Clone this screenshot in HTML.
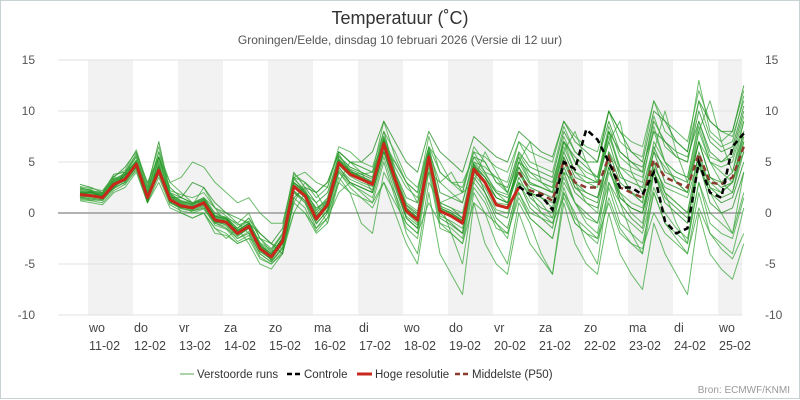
<!DOCTYPE html>
<html><head><meta charset="utf-8"><style>
body{margin:0;background:#fff}
svg{display:block;font-family:"Liberation Sans",sans-serif}
</style></head><body>
<svg id="chart" width="800" height="400" viewBox="0 0 800 400">
<rect x="0.5" y="0.5" width="799" height="398" fill="#fff" stroke="#c8d2d4"/>
<text x="400" y="24" text-anchor="middle" font-size="18" fill="#333">Temperatuur (˚C)</text>
<text x="400" y="44" text-anchor="middle" font-size="12" fill="#555">Groningen/Eelde, dinsdag 10 februari 2026 (Versie di 12 uur)</text>
<g id="bands"></g><g id="grid"></g><g id="members"></g><g id="mainlines"></g><g id="axes"></g>
<g font-size="11.5" fill="#333">
<g><line x1="180" y1="374" x2="194" y2="374" stroke="#a8d4a8" stroke-width="2"/><text x="197" y="378">Verstoorde runs</text></g>
<g><line x1="287" y1="374" x2="301" y2="374" stroke="#000" stroke-width="2.5" stroke-dasharray="5,3"/><text x="304" y="378">Controle</text></g>
<g><line x1="357" y1="374" x2="372" y2="374" stroke="#c8281c" stroke-width="3"/><text x="375" y="378">Hoge resolutie</text></g>
<g><line x1="455" y1="374" x2="469" y2="374" stroke="#8b3a2e" stroke-width="2.5" stroke-dasharray="5,3"/><text x="472" y="378">Middelste (P50)</text></g>
</g>
<text x="790" y="393" text-anchor="end" font-size="10" fill="#999">Bron: ECMWF/KNMI</text>
</svg>
<script>
const yTicks=[-10,-5,0,5,10,15];
const dayNames=["wo","do","vr","za","zo","ma","di","wo","do","vr","za","zo","ma","di","wo"];
const dayDates=["11-02","12-02","13-02","14-02","15-02","16-02","17-02","18-02","19-02","20-02","21-02","22-02","23-02","24-02","25-02"];
const hires=[1.8,1.7,1.5,2.8,3.3,4.8,1.5,4.2,1.3,0.7,0.5,1.0,-0.7,-0.9,-2,-1.3,-3.5,-4.3,-2.8,2.6,1.7,-0.6,0.8,4.9,3.8,3.3,2.8,6.8,3.3,0.2,-0.7,5.5,0.2,-0.3,-1,4.3,3,0.8,0.5,2.5];
const control=[2.6,1.8,1.7,0.3,5.0,4.3,8.2,7.2,5.0,2.5,2.5,1.8,4.0,-0.8,-2.0,-1.5,5.0,2.0,1.5,6.5,7.8];
const p50=[4.0,2.2,1.9,1.2,5.2,3.0,2.5,2.5,5.5,2.5,2.0,1.5,5.2,3.5,3.0,2.5,5.8,3.0,2.8,3.5,6.5];
const members=[
[2.5,2.2,2,3.5,4.5,6,2.5,7,2,1.5,1,1.5,0,-0.5,-1.5,-0.5,-2,-3,-1.5,4,2.5,1,2,5.5,4.5,4,3.5,8,4,1.5,1,6.5,2,1.5,1,5.5,5,3,2.5,6,4.5,4,3.5,8,6,5,5,9,6,5,4.5,8,7,6,5.5,9,6,5,6,10],
[1.2,1,0.8,2,2.5,4,1,3,0.5,0,-0.5,0,-1.5,-2,-3,-2.5,-4.5,-5,-4,1,0,-2,-1,3.5,2,1.5,1,5,1.5,-1.5,-2.5,4,-1.5,-2,-3,2.5,1,-1.5,-2,1.5,-0.5,-1.5,-2.5,2,-1,-2,-3,1.5,-1.5,-3,-4,2,-1,-2.5,-4,2,-2,-3,-4,0.5],
[2,1.8,1.7,3.3,3.8,5.5,2,5,1.8,1.2,0.8,2.5,0.5,-0.3,-1.2,-0.8,-3,-3.8,-2,3,2.2,0.3,1.5,5.8,4,3.8,4,7.5,4.5,2.5,1.5,6,3,2,1,5,4.5,3.5,2,5.5,3,2.5,2,7,5,3.5,3,8,4,2,1,6,4.5,3,2,7,5,4,3,8],
[1.5,1.4,1.3,2.5,3,4.5,1.2,4,1,0.5,0.2,0.5,-1,-1.5,-2.5,-2,-4,-4.8,-3.5,2,1,-1.5,0,4.5,3,2.5,2,6,2.5,-0.5,-1.5,5,0,-1,-2,3.5,2,0,-0.5,3.5,1.5,0.5,0,4.5,2,1,0.5,4.5,1.5,0.5,0,4,1.5,0.5,-0.5,4.5,2,1,1.5,5],
[2.2,2,1.8,3,3.5,5,2,6,3,3.5,5,4.5,3,2,1,1.5,0,-1,-1,3.5,3,2,3,6,5,4.5,4,7,5,3,2,6.5,4,3,2.5,6,5.5,4.5,4,7,6,5.5,5,9,7.5,6.5,6,10,8,7,6.5,11,9,8,7,12,9,8,7.5,11],
[1.6,1.5,1.4,2.6,3.2,4.7,1.4,4.5,1.2,0.6,0.3,0.8,-0.8,-1.2,-2.3,-1.5,-3.8,-4.5,-3,2.8,1.8,-0.2,0.5,4,2.5,1.5,0.5,3,0,-3,-5,2,-4,-6,-8,1,-3,-5,-6,0,-3,-4.5,-6,1,-3,-5,-6,0,-4,-6,-7.5,-1,-4,-6,-8,0,-4,-5.5,-6.5,-3],
[2.8,2.5,2,3.8,4,5.8,3,5.5,2.5,1.5,1,1.2,-0.3,-0.5,-1.8,-1,-3.2,-4,-2.5,3.5,2,0.5,1.2,5,4.2,3.5,3,7,3.5,0.8,0,6,1,0.5,-0.5,4.8,3.5,1.5,1,4.5,2.8,2.5,2,6,3.5,3,3,7,3.5,3,2.5,6.5,4,3.5,3,7,3.5,3,4,8],
[1.9,1.8,1.6,2.9,3.4,4.9,1.6,4.3,1.4,0.8,0.6,1.1,-0.5,-0.8,-2,-1.2,-3.3,-4.2,-2.7,2.8,1.8,-0.4,1,5.2,4,3.5,3,7.2,3.5,0.5,-0.5,5.8,0.5,0,-0.8,4.5,3.2,1,0.8,4,2,1.5,1,5,2.5,2,1.5,5,2,1,0.5,4.5,2.5,2,1.5,5.5,2.5,2,3,6],
[1.7,1.6,1.5,2.7,3.3,4.8,1.5,4.1,1.3,0.7,0.5,1,-0.7,-1,-2.1,-1.4,-3.6,-4.4,-2.9,2.5,1.5,-0.8,0.6,4.7,3.6,3,2.6,6.5,3,0,-1,5.3,1,1.5,2,6,4,3.5,3,7,5,4.5,4,8.5,6,5,5,10,7,6,5.5,11,8,7,6,13,8,7,8,12],
[2.3,2.1,1.9,3.2,3.7,5.2,1.9,4.6,1.7,1.1,0.9,1.4,-0.3,-0.6,-1.7,-1,-3.1,-4,-2.4,3,2,0,1.2,5.3,4.3,3.8,3.3,7.3,3.8,0.7,-0.2,6,0.7,0.2,-0.5,4.8,2,-0.5,-1.5,3,0.5,-0.5,-1.5,4,1,0,-1,4.5,1,-0.5,-1.5,4,1,0,-1,5,1,0,0.5,4],
[1.4,1.3,1.2,2.4,3,4.5,1.2,3.8,1,0.4,0.2,0.7,-1,-1.3,-2.5,-1.8,-4,-4.8,-3.3,2.1,1.2,-1.1,0.3,4.4,3.3,2.8,2.3,6.3,2.8,-0.3,-1.2,5,-0.3,-0.8,-1.5,3.8,2.5,0.3,0,3,1,0,-0.5,3.5,1,-0.5,-1,3,0,-1,-2,2.5,0,-1.5,-2.5,3,0,-1,-2,2],
[2,1.9,1.7,3,3.5,5,1.7,4.4,1.5,0.9,0.7,1.2,-0.5,-0.7,-1.8,-1.1,-3.3,-4.1,-2.6,2.8,1.9,-0.4,1,5.1,4,3.5,3,7,3.5,0.4,-0.5,5.7,0.4,-0.1,-0.8,4.5,3.5,1.5,1,5,3,2.5,2,6.5,4,3.5,3,7.5,4.5,4,3.5,8,5,4,3.5,8.5,5,4.5,5,9],
[1.8,1.7,1.5,2.8,3.3,4.8,1.5,4.2,1.3,0.7,0.5,1,-0.7,-0.9,-2,-1.3,-3.5,-4.3,-2.8,2.6,1.7,-0.6,0.8,4.9,3.8,3.3,2.8,6.8,3.3,0.2,-0.7,5.5,0.2,-0.3,-1,4.3,3,0.8,0.5,4.5,2,1.5,0.5,5.5,2.5,1.5,1,5.5,1.5,0.5,0,5,2,1,0,6,2.5,1.5,2,7],
[2.6,2.4,2.2,3.6,4.2,6.2,2.8,6.5,2.2,1.8,1.5,2,0.5,0,-1,0,-2.5,-3.5,-2,3.8,3,1.5,2.5,6,5,4.5,4,9,5.5,3,2,7.5,4,3,2,6.5,5,3,2,5.5,3.5,3,2.5,7,4,3,2.5,8,4.5,3.5,3,8.5,5,4,3.5,9,5.5,5,5.5,9.5],
[1.3,1.2,1,2.2,2.8,4.2,1,3.5,0.8,0.2,0,0.4,-1.2,-1.6,-2.8,-2.2,-4.3,-5,-3.8,1.5,0.5,-1.8,-0.5,4,2.8,2.2,1.5,5.5,2,-1,-2,4.5,-1,-1.5,-2.5,3,1.5,-1,-2,2,-0.5,-1.5,-2.5,2.5,-0.5,-1.5,-2.5,2.5,-1,-2,-3,2,-1,-2,-3,3,-1,-2,-2.5,1.5],
[2.1,2,1.8,3.1,3.6,5.1,1.8,4.5,1.6,1,0.8,1.3,-0.4,-0.6,-1.7,-1,-3.2,-4,-2.5,3,2,-0.3,1.1,5.2,4.1,3.6,3.1,7.1,3.6,0.5,-0.4,5.8,0.5,0,-0.7,4.6,3.5,2,1.5,4,2.5,2,1.5,5.5,3,2,1.5,6,3,2,1.5,6,3,2.5,2,7,3.5,2.5,3,7.5],
[2.4,2.3,1.2,3,4,5.5,2.5,5.5,3,2,1,0.5,-1,-0.5,-1,-2,-2.5,-3,-3.5,1,3,2,0,3,5,4,2,6,5,3,1,4,3,4,2,3,6,4,2,5,7,3,2,6,8,5,3,7,9,4,2,6,10,6,3,8,11,7,4,9],
[1.5,1.7,1.9,3.3,2.8,4.3,2.2,5.5,2,0,-0.5,0,-1.5,-2.5,-1.5,-3,-5,-5.5,-4,0,2,1,-1,3,2,-1,-2,4,2,-2,-4,3,1,-2,-5,2,0,-3,-5,1,-1,-4,-6,2,0,-3,-5,3,1,-2,-4,4,2,-1,-3,5,2,0,-2,4],
[2,2.1,1.4,2.6,4,5,1,5.5,1.5,1.5,3,2.5,1,0,-0.5,-1,-2,-3,-4,1.5,2.5,2,3,6,5,5,6,9,7,5,4,8,6,5,4,7.5,6.5,5.5,5,8,7,6,5.5,9,7,6,5,10,8,6,5,10,9,7,6,11,9,8,8,12.5],
[1.6,1.2,1.8,3,3.5,5.2,1.5,3.8,1,1,0,0,-2,-2.2,-3,-2.5,-3,-4.7,-3.5,0,0,-1.5,-0.5,2,3,2,1,3,1,-1,-2,1,-1,-2,-3,1,0,-1,-2.5,3,2,1,-0.5,4,3,1,0,6,4,2,1,7,5,3,2,8,5,3,2,6],
[2.2,1.6,1.6,3.6,3,5,2.3,6,2,1,0.3,1.5,0.5,-1,-1.5,-0.5,-2.5,-3.8,-3,3.5,4,3,2.5,6.5,6,5,4.5,8,6,3.5,2.5,6.5,5,3,3,5.5,4,2,1,4,2,0,-1,3,1,-1,-2,4,2,0,-1,5,2,1,0,5,3,2,3,7],
[1.9,2,1.7,2.4,3.8,4.4,1.3,4.8,1.1,0.5,0.7,0.8,-0.9,-1.1,-2.2,-1.5,-3.7,-4.6,-3,2.2,1.2,-1,0.2,4.2,3,2.5,2,6,3,-0.5,-1.5,5,-0.5,-1.2,-2,4,3,1.5,1,5,4,3.5,3,7,5.5,4.5,3.5,8,6,5,4,9,7,5.5,5,10,7,6,6.5,10.5],
[1.7,1.8,1.6,3.4,3.1,4.6,1.7,4.4,1.5,1,0.4,0.9,-0.6,-1,-1.9,-1.2,-3.4,-4.2,-2.6,2.7,1.6,-0.5,0.9,5,3.9,3.4,2.9,6.9,3.4,0.3,-0.6,5.6,0.3,-0.2,-0.9,4.4,3.1,0.9,0.6,2,0,-0.5,-1,1.5,-1,-2,-2.5,1,-2,-3,-3.5,0,-2,-3,-4,0.5,-2,-3.5,-4.5,-2],
[2.4,2.2,1.9,3.3,3.9,5.6,2.1,5.2,1.9,1.2,1,1.5,-0.2,-0.4,-1.5,-0.8,-2.9,-3.6,-2.2,3.3,2.3,0.2,1.4,5.6,4.5,4,3.5,7.5,4,1,0.2,6.3,1,0.5,0,5,3.8,2.2,1.8,5.8,4,3,2.5,7.5,5,4,3.5,8.5,5.5,4.5,4,9.5,6.5,5.5,5,11,7.5,6.5,7,11.5]
];
const NS="http://www.w3.org/2000/svg";
const X0=80,STEP=11.25,DAY0=88,DAYW=45,PL=58,PR=742;
function xs(i){return X0+i*STEP;}
function ys(v){return 213-v*10.2;}
function mk(tag,attrs,parent){const e=document.createElementNS(NS,tag);for(const k in attrs)e.setAttribute(k,attrs[k]);parent.appendChild(e);return e;}
const bands=document.getElementById('bands'),grid=document.getElementById('grid'),axes=document.getElementById('axes');
dayNames.forEach((d,k)=>{
  const x=DAY0+k*DAYW;
  if(k%2===0){const r=mk('rect',{x:x,y:60,width:Math.min(DAYW,PR-x),height:255,fill:'#f2f2f2'},bands);
  
  }
  const t=mk('text',{x:x+1,y:332,'font-size':12.5,fill:'#444'},axes);t.textContent=d;
  
  
  const t2=mk('text',{x:x+1,y:350,'font-size':12.5,fill:'#444'},axes);t2.textContent=dayDates[k];
  
  
});
yTicks.forEach(v=>{
  const y=ys(v);
  const l=mk('line',{x1:PL,x2:PR,y1:y,y2:y,stroke:v===0?'#999':'#e2e2e2','stroke-width':v===0?1.5:1},grid);
  
  
  const a=mk('text',{x:35,y:y+4,'text-anchor':'end','font-size':12,fill:'#555'},axes);a.textContent=v;
  
  
  const b=mk('text',{x:765,y:y+4,'text-anchor':'start','font-size':12,fill:'#555'},axes);b.textContent=v;
  
  
});
function pts(arr,off){return arr.map((v,i)=>xs(i+off).toFixed(1)+','+ys(v).toFixed(1)).join(' ');}
const mg=document.getElementById('members');
members.forEach((m,j)=>{
  const p=mk('polyline',{points:pts(m,0),fill:'none',stroke:j%3===0?'#1e8c1e':'#3aa63a','stroke-width':1,'stroke-opacity':0.75,'stroke-linejoin':'round'},mg);
  
  
});
const ml=document.getElementById('mainlines');
const pp=mk('polyline',{points:pts(p50,39),fill:'none',stroke:'#8b3a2e','stroke-width':2.5,'stroke-dasharray':'6,4'},ml);


const hr=mk('polyline',{points:pts(hires,0),fill:'none',stroke:'#c8281c','stroke-width':3,'stroke-linejoin':'round'},ml);


const cl=mk('polyline',{points:pts(control,39),fill:'none',stroke:'#000','stroke-width':2.5,'stroke-dasharray':'6,4'},ml);


</script>
</body></html>
